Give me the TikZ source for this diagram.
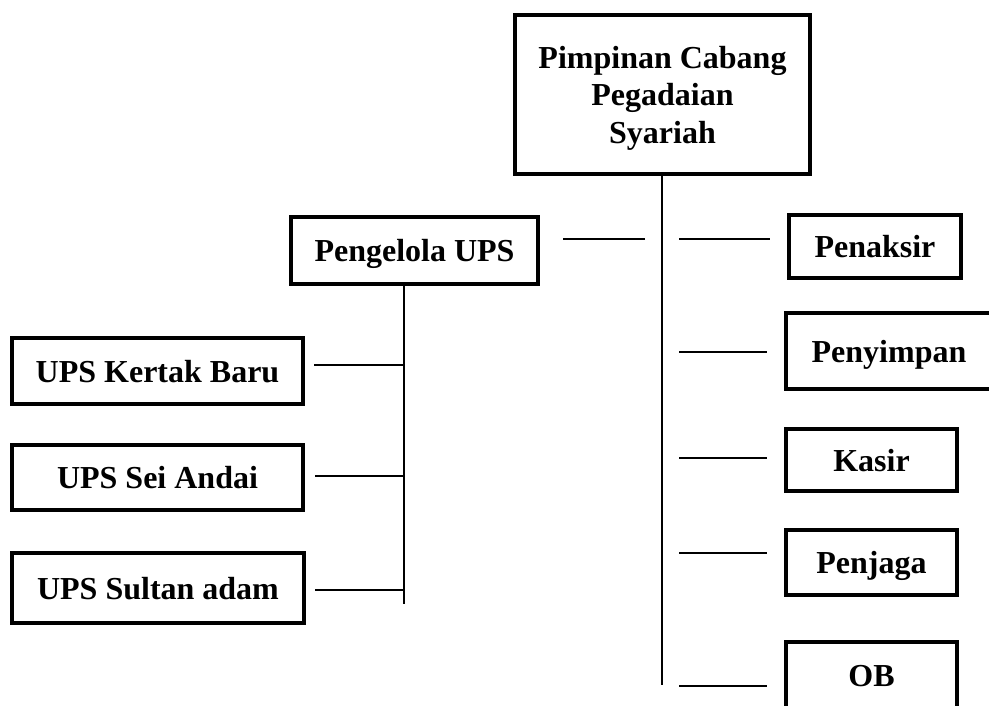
\documentclass[tikz,border=0pt]{standalone}
\usepackage{fontspec}
\setmainfont{Liberation Serif}
\tikzset{
  box/.style={draw, line width=4.5pt, align=center, inner sep=0pt, text depth=0pt,
    font=\fontsize{32}{37.5}\selectfont\bfseries},
  link/.style={line width=1.6pt},
  gap/.style={shorten <=17pt, shorten >=17pt}
}
\begin{document}
\begin{tikzpicture}[x=1pt,y=-1pt]
  \clip (0,0) rectangle (989,706);
  \node[box, minimum width=295pt, minimum height=159pt] (pc) at (662.5,94.5) {Pimpinan Cabang\\Pegadaian\\Syariah};
  \node[box, minimum width=247pt, minimum height=67pt] (pu) at (414.5,250.5) {Pengelola UPS};
  \node[box, minimum width=291pt, minimum height=66pt] (kb) at (157.5,371) {UPS Kertak Baru};
  \node[box, minimum width=291pt, minimum height=65pt] (sa) at (157.5,477.5) {UPS Sei Andai};
  \node[box, minimum width=292pt, minimum height=70pt] (sd) at (158,588) {UPS Sultan adam};
  \node[box, minimum width=172pt, minimum height=63pt] (pk) at (875,246.5) {Penaksir};
  \node[box, minimum width=206pt, minimum height=76pt] (pn) at (889,351) {Penyimpan};
  \node[box, minimum width=171pt, minimum height=62pt] (ks) at (871.5,460) {Kasir};
  \node[box, minimum width=171pt, minimum height=65pt] (pj) at (871.5,562.5) {Penjaga};
  \node[box, minimum width=171pt, minimum height=68pt] (ob) at (871.5,676) {OB};

  \coordinate (tb) at (662,685);
  \coordinate (ub) at (404,604);

  \draw[link] (pc.south -| tb) -- (tb);
  \draw[link] (ub |- pu.south) -- (ub);

  \draw[link, shorten <=17pt, shorten >=23pt] (tb |- 0,239) -- (pu.east |- 0,239);
  \draw[link, gap] (tb |- 0,239) -- (pk.west |- 0,239);
  \draw[link, gap] (tb |- 0,352) -- (pn.west |- 0,352);
  \draw[link, gap] (tb |- 0,458) -- (ks.west |- 0,458);
  \draw[link, gap] (tb |- 0,553) -- (pj.west |- 0,553);
  \draw[link, gap] (tb |- 0,686) -- (ob.west |- 0,686);

  \draw[link, shorten >=9pt] (ub |- 0,365) -- (kb.east |- 0,365);
  \draw[link, shorten >=10pt] (ub |- 0,476) -- (sa.east |- 0,476);
  \draw[link, shorten >=9pt] (ub |- 0,590) -- (sd.east |- 0,590);
\end{tikzpicture}
\end{document}
